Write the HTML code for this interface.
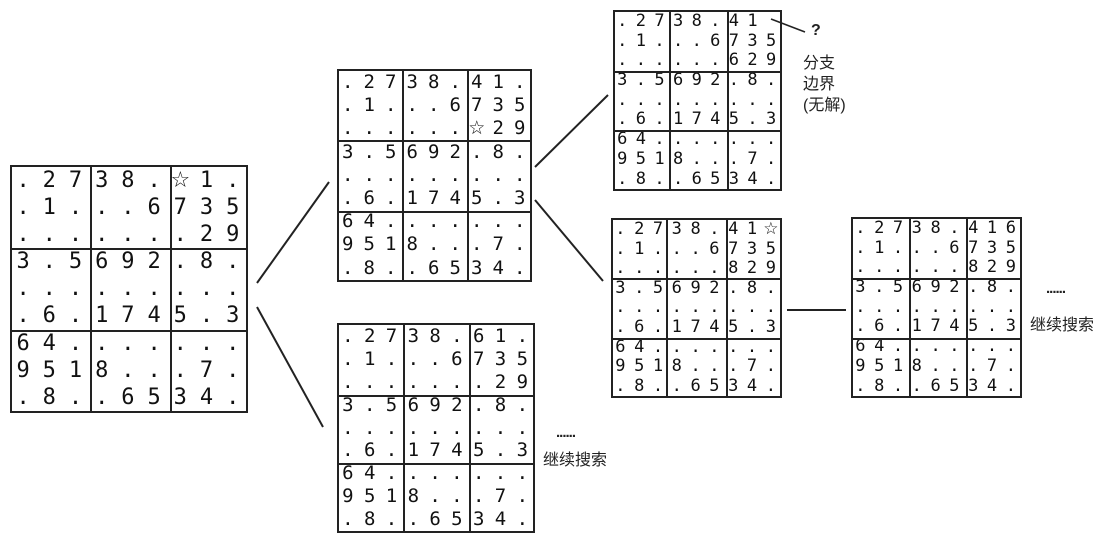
<!DOCTYPE html>
<html><head><meta charset="utf-8"><style>
html,body{margin:0;padding:0;background:#fff;}
body{width:1103px;height:539px;position:relative;overflow:hidden;font-family:"DejaVu Sans Mono","Liberation Mono",monospace;color:#111;}
.g{position:absolute;box-sizing:border-box;border:2px solid #222;}
.g .r{height:var(--ch);line-height:var(--ch);white-space:pre;font-size:var(--fs);letter-spacing:calc(var(--cw) - 0.602em);padding-left:calc((var(--cw) - 0.602em)/2 - 2px);}
.g .vl{position:absolute;top:0;bottom:0;width:2px;background:#222;}
.g .hl{position:absolute;left:0;right:0;height:2px;background:#222;}
.s{display:inline-block;width:var(--cw);position:relative;left:calc((0.602em - var(--cw))/2);text-align:center;letter-spacing:0;font-family:"DejaVu Sans",sans-serif;}
.t{position:absolute;font-family:"Liberation Sans","Noto Sans CJK SC",sans-serif;color:#222;}
</style></head><body>
<svg width="1103" height="539" style="position:absolute;left:0;top:0" stroke="#222" stroke-width="2" fill="none">
<line x1="257" y1="283" x2="329" y2="182"/>
<line x1="257" y1="307" x2="323" y2="427"/>
<line x1="535" y1="167" x2="608" y2="95"/>
<line x1="535" y1="200" x2="603" y2="281"/>
<line x1="787" y1="310" x2="846" y2="310"/>
<line x1="771" y1="19" x2="805" y2="32" stroke-width="1.5"/>
</svg>

<div class="g" style="left:10px;top:165px;width:238px;height:248px;--cw:26.2px;--ch:27.1px;--fs:22px;">
<div class="vl" style="left:78px"></div><div class="vl" style="left:158px"></div>
<div class="hl" style="top:81px"></div><div class="hl" style="top:163px"></div>
<div class="r">.2738.<span class="s">☆</span>1.</div>
<div class="r">.1...6735</div>
<div class="r">.......29</div>
<div class="r">3.5692.8.</div>
<div class="r">.........</div>
<div class="r">.6.1745.3</div>
<div class="r">64.......</div>
<div class="r">9518...7.</div>
<div class="r">.8..6534.</div>
</div>

<div class="g" style="left:337px;top:69px;width:195px;height:213px;--cw:21.5px;--ch:23.2px;--fs:19px;">
<div class="vl" style="left:63px"></div><div class="vl" style="left:128px"></div>
<div class="hl" style="top:69px"></div><div class="hl" style="top:140px"></div>
<div class="r">.2738.41.</div>
<div class="r">.1...6735</div>
<div class="r">......<span class="s">☆</span>29</div>
<div class="r">3.5692.8.</div>
<div class="r">.........</div>
<div class="r">.6.1745.3</div>
<div class="r">64.......</div>
<div class="r">9518...7.</div>
<div class="r">.8..6534.</div>
</div>

<div class="g" style="left:337px;top:323px;width:198px;height:210px;--cw:21.8px;--ch:22.9px;--fs:19px;">
<div class="vl" style="left:64px"></div><div class="vl" style="left:130px"></div>
<div class="hl" style="top:70px"></div><div class="hl" style="top:138px"></div>
<div class="r">.2738.61.</div>
<div class="r">.1...6735</div>
<div class="r">.......29</div>
<div class="r">3.5692.8.</div>
<div class="r">.........</div>
<div class="r">.6.1745.3</div>
<div class="r">64.......</div>
<div class="r">9518...7.</div>
<div class="r">.8..6534.</div>
</div>

<div class="g" style="left:613px;top:10px;width:169px;height:181px;--cw:18.6px;--ch:19.7px;--fs:17px;">
<div class="vl" style="left:54px"></div><div class="vl" style="left:112px"></div>
<div class="hl" style="top:59px"></div><div class="hl" style="top:118px"></div>
<div class="r">.2738.41 </div>
<div class="r">.1...6735</div>
<div class="r">......629</div>
<div class="r">3.5692.8.</div>
<div class="r">.........</div>
<div class="r">.6.1745.3</div>
<div class="r">64.......</div>
<div class="r">9518...7.</div>
<div class="r">.8..6534.</div>
</div>

<div class="g" style="left:611px;top:218px;width:171px;height:180px;--cw:18.8px;--ch:19.6px;--fs:17px;">
<div class="vl" style="left:53px"></div><div class="vl" style="left:113px"></div>
<div class="hl" style="top:58px"></div><div class="hl" style="top:118px"></div>
<div class="r">.2738.41<span class="s">☆</span></div>
<div class="r">.1...6735</div>
<div class="r">......829</div>
<div class="r">3.5692.8.</div>
<div class="r">.........</div>
<div class="r">.6.1745.3</div>
<div class="r">64.......</div>
<div class="r">9518...7.</div>
<div class="r">.8..6534.</div>
</div>

<div class="g" style="left:851px;top:217px;width:171px;height:181px;--cw:18.8px;--ch:19.7px;--fs:17px;">
<div class="vl" style="left:56px"></div><div class="vl" style="left:113px"></div>
<div class="hl" style="top:59px"></div><div class="hl" style="top:119px"></div>
<div class="r">.2738.416</div>
<div class="r">.1...6735</div>
<div class="r">......829</div>
<div class="r">3.5692.8.</div>
<div class="r">.........</div>
<div class="r">.6.1745.3</div>
<div class="r">64.......</div>
<div class="r">9518...7.</div>
<div class="r">.8..6534.</div>
</div>

<div class="t" style="left:811px;top:22px;font-size:16px;font-weight:bold;">?</div>
<div class="t" style="left:803px;top:53px;font-size:16px;line-height:21px;">分支<br>边界<br>(无解)</div>
<div class="t" style="left:556px;top:424px;font-size:15px;font-weight:bold;letter-spacing:-1px;">......</div>
<div class="t" style="left:543px;top:446px;font-size:16px;">继续搜索</div>
<div class="t" style="left:1046px;top:280px;font-size:15px;font-weight:bold;letter-spacing:-1px;">......</div>
<div class="t" style="left:1030px;top:311px;font-size:16px;">继续搜索</div>
</body></html>
